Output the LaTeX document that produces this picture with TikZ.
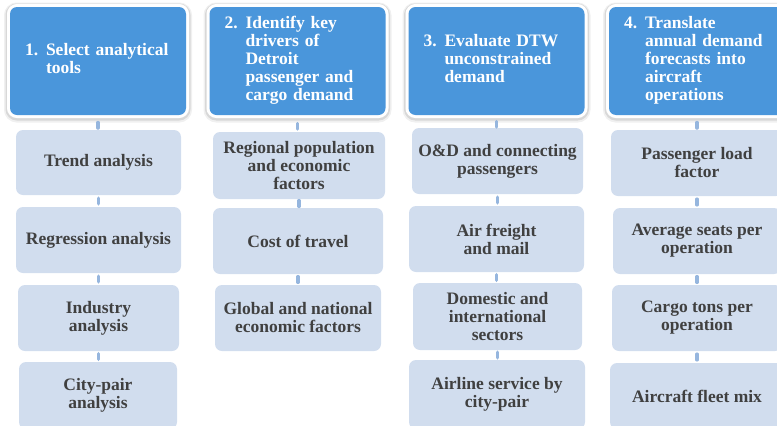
\documentclass[tikz,border=0pt]{standalone}
\usepackage{fontspec}
\setmainfont{Liberation Serif}
\usetikzlibrary{calc}
\definecolor{hdblue}{RGB}{74,150,219}
\definecolor{subfill}{RGB}{209,221,238}
\definecolor{subtext}{RGB}{64,64,64}
\definecolor{connblue}{RGB}{150,182,222}
\newcommand\subbx[6]{\node[subbox, minimum width={#3-#2}, minimum height={#5-#4}] (#1) at ({(#2+#3)/2},{(#4+#5)/2+1}) {#6};}
\newcommand\hdtxt[2]{\makebox[21pt][l]{#1}\begin{tabular}[t]{@{}l@{}}#2\end{tabular}}
\newcommand\cnx[2]{\draw[conn] ($(#1.south)!0.5!(#1.south |- #2.north)$) +(0,-2.8) -- +(0,2.8);}
\newcommand\hcnx[2]{\draw[conn] ($(#1.south)!0.5!(#1.south |- #2.north)$) +(0,0) -- +(0,5.5);}
\begin{document}
\begin{tikzpicture}[x=1pt,y=-1pt,
  hdbox/.style={rectangle, rounded corners=7pt, fill=hdblue, text=white,
    font=\fontsize{17.5}{18}\selectfont\bfseries, align=left,
    text width=146pt, inner xsep=15pt, inner ysep=0pt, minimum height=108pt,
    preaction={draw=black, opacity=0.06, line width=12pt, transform canvas={yshift=-1.5pt}},
    preaction={draw=black, opacity=0.10, line width=9pt, transform canvas={yshift=-1pt}},
    preaction={draw=white, line width=6pt}},
  subbox/.style={rectangle, rounded corners=7pt, fill=subfill, text=subtext,
    font=\fontsize{17.5}{18}\selectfont\bfseries, align=center, inner sep=0pt},
  conn/.style={draw=connblue, line width=3.5pt, line cap=round}]
\useasboundingbox (0,0) rectangle (777,426);

% headers
\node[hdbox] (h1) at (98,61) {\hdtxt{1.}{Select analytical\\tools}};
\node[hdbox] (h2) at (297.5,61) {\hdtxt{2.}{Identify key\\drivers of\\Detroit\\passenger and\\cargo demand}};
\node[hdbox] (h3) at (496.5,61) {\hdtxt{3.}{Evaluate DTW\\unconstrained\\demand}};
\node[hdbox] (h4) at (697,61) {\hdtxt{4.}{Translate\\annual demand\\forecasts into\\aircraft\\operations}};

% column 1
\subbx{a1}{16}{181}{129}{194}{Trend analysis}
\subbx{a2}{16}{181}{206}{272}{Regression analysis}
\subbx{a3}{18}{179}{284}{350}{Industry\\analysis}
\subbx{a4}{19}{177}{361}{428}{City-pair\\analysis}
% column 2
\subbx{b1}{213}{385}{131}{198}{Regional population\\and economic\\factors}
\subbx{b2}{213}{383}{207}{273}{Cost of travel}
\subbx{b3}{215}{381}{284}{350}{Global and national\\economic factors}
% column 3
\subbx{c1}{412}{583}{127}{193}{O\&D and connecting\\passengers}
\subbx{c2}{409}{584}{205}{271}{Air freight\\and mail}
\subbx{c3}{413}{582}{282}{349}{Domestic and\\international\\sectors}
\subbx{c4}{409}{585}{359}{428}{Airline service by\\city-pair}
% column 4
\subbx{d1}{611}{783}{129}{195}{Passenger load\\factor}
\subbx{d2}{613}{781}{207}{273}{Average seats per\\operation}
\subbx{d3}{612}{782}{284}{350}{Cargo tons per\\operation}
\subbx{d4}{610}{784}{362}{428}{Aircraft fleet mix}

% connectors
\hcnx{h1}{a1}
\cnx{a1}{a2}
\cnx{a2}{a3}
\cnx{a3}{a4}
\hcnx{h2}{b1}
\cnx{b1}{b2}
\cnx{b2}{b3}
\hcnx{h3}{c1}
\cnx{c1}{c2}
\cnx{c2}{c3}
\cnx{c3}{c4}
\hcnx{h4}{d1}
\cnx{d1}{d2}
\cnx{d2}{d3}
\cnx{d3}{d4}
\end{tikzpicture}
\end{document}
